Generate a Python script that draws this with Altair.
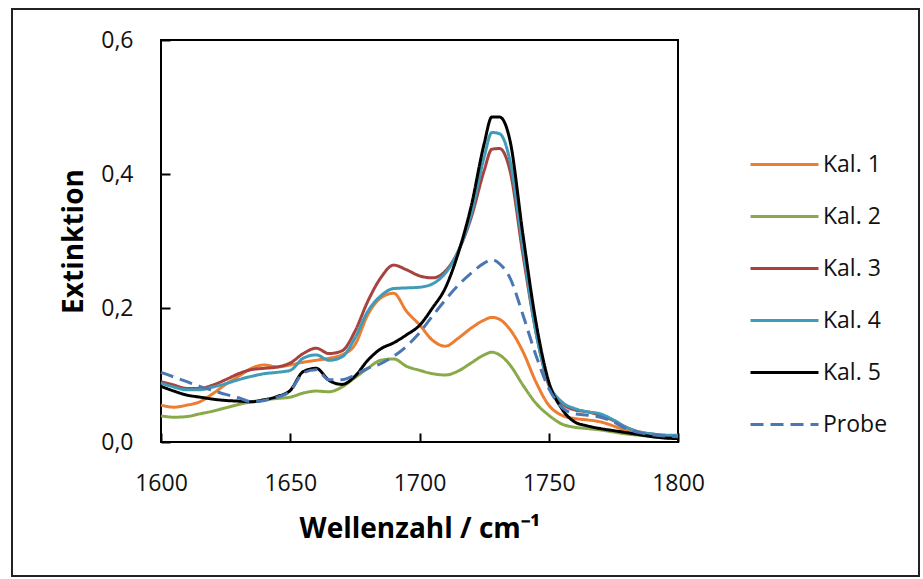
import altair as alt
import pandas as pd

wavenumber = [1600, 1605, 1610, 1615, 1620, 1625, 1630, 1635, 1640, 1645,
              1650, 1655, 1660, 1665, 1670, 1675, 1680, 1685, 1690, 1695,
              1700, 1705, 1710, 1715, 1720, 1725, 1728, 1731, 1735, 1740,
              1745, 1750, 1755, 1760, 1765, 1770, 1775, 1780, 1785, 1790,
              1795, 1800]

kal1 = [.055, .052, .055, .060, .072, .086, .098, .110, .115, .112,
        .115, .119, .122, .125, .130, .145, .190, .215, .222, .195,
        .175, .152, .143, .155, .170, .182, .186, .183, .168, .135,
        .090, .055, .040, .035, .033, .030, .024, .017, .012, .009,
        .007, .006]
kal2 = [.039, .037, .038, .042, .046, .051, .056, .060, .063, .065,
        .067, .073, .076, .075, .082, .096, .110, .122, .124, .113,
        .107, .102, .100, .106, .118, .130, .134, .130, .115, .085,
        .058, .040, .027, .022, .020, .018, .015, .012, .010, .008,
        .006, .005]
kal3 = [.090, .085, .080, .080, .085, .093, .102, .108, .110, .112,
        .118, .132, .140, .132, .136, .165, .210, .245, .264, .257,
        .248, .245, .255, .285, .335, .405, .437, .438, .405, .280,
        .165, .085, .058, .048, .045, .040, .032, .022, .015, .012,
        .010, .009]
kal4 = [.088, .082, .078, .078, .082, .087, .093, .098, .102, .104,
        .107, .125, .130, .122, .127, .155, .195, .218, .229, .230,
        .231, .236, .252, .285, .340, .425, .462, .460, .420, .290,
        .165, .088, .060, .050, .045, .042, .033, .022, .015, .012,
        .010, .010]
kal5 = [.083, .076, .070, .067, .064, .062, .061, .060, .063, .068,
        .077, .105, .110, .092, .086, .098, .122, .139, .148, .160,
        .174, .200, .230, .282, .352, .445, .485, .485, .450, .310,
        .180, .090, .050, .030, .024, .020, .017, .014, .011, .008,
        .006, .005]
probe = [.104, .097, .090, .083, .077, .071, .066, .060, .062, .067,
         .076, .103, .108, .093, .093, .100, .110, .117, .128, .143,
         .163, .188, .212, .234, .252, .267, .272, .266, .245, .190,
         .130, .080, .052, .042, .040, .037, .030, .020, .014, .011,
         .009, .008]

series_names = ["Kal. 1", "Kal. 2", "Kal. 3", "Kal. 4", "Kal. 5", "Probe"]
series_values = [kal1, kal2, kal3, kal4, kal5, probe]
series_colors = ["#ED7D31", "#8AAA4A", "#A8423F", "#3F9CB8", "#000000", "#4A77B4"]
series_dash = [[1, 0], [1, 0], [1, 0], [1, 0], [1, 0], [13, 7]]
series_width = [3, 3, 3, 3, 3, 5]

y_ticks = [0.0, 0.2, 0.4, 0.6]
x_ticks = [1600, 1650, 1700, 1750, 1800]

rows = []
for name, vals in zip(series_names, series_values):
    for w, v in zip(wavenumber, vals):
        rows.append({"Wellenzahl": w, "Extinktion": v, "Serie": name})
df = pd.DataFrame(rows)

FONT = "Open Sans"

legend_opts = dict(title=None, orient="none", legendX=612, legendY=113,
                   symbolType="M-3.4,0H3.4", symbolSize=400,
                   symbolStrokeWidth=3.5, labelOffset=27,
                   rowPadding=28, labelFont=FONT, labelFontSize=23,
                   labelColor="#111111", padding=0)

lines = alt.Chart(df).mark_line(interpolate="monotone").encode(
    x=alt.X("Wellenzahl:Q",
            scale=alt.Scale(domain=[1600, 1800], nice=False),
            axis=alt.Axis(values=x_ticks, format="d", title="Wellenzahl / cm⁻¹",
                          labelFlush=False,
                          offset=-9, tickSize=9, labelPadding=30, titlePadding=20)),
    y=alt.Y("Extinktion:Q",
            scale=alt.Scale(domain=[0, 0.6], nice=False),
            axis=alt.Axis(values=y_ticks, title="Extinktion",
                          labelExpr="replace(format(datum.value, '.1f'), '.', ',')",
                          labelFlush=False,
                          offset=-9, tickSize=9, labelPadding=28, titlePadding=12)),
    color=alt.Color("Serie:N",
                    scale=alt.Scale(domain=series_names, range=series_colors),
                    legend=alt.Legend(**legend_opts)),
    strokeDash=alt.StrokeDash("Serie:N",
                              scale=alt.Scale(domain=series_names, range=series_dash),
                              legend=alt.Legend(**legend_opts)),
    strokeWidth=alt.StrokeWidth("Serie:N",
                                scale=alt.Scale(domain=series_names, range=series_width),
                                legend=None),
)

frame = alt.Chart(pd.DataFrame({"k": [0]})).mark_rect(
    filled=False, stroke="#222222", strokeWidth=2
).encode(
    x=alt.value(-149), x2=alt.value(758), y=alt.value(-31), y2=alt.value(536)
)

chart = alt.layer(lines, frame).properties(
    width=517, height=402,
    autosize=alt.AutoSizeParams(type="none"),
    padding={"left": 161, "top": 40, "right": 245, "bottom": 137},
    background="white",
).configure_view(
    stroke="#000000", strokeWidth=2
).configure_axis(
    domain=False, grid=False, tickColor="#000000", tickWidth=2,
    labelFont=FONT, labelFontSize=23, labelColor="#111111",
    titleFont=FONT, titleFontSize=28, titleFontWeight="bold", titleColor="#000000",
)

chart.save("out.html", embed_options={"renderer": "svg", "actions": False})
